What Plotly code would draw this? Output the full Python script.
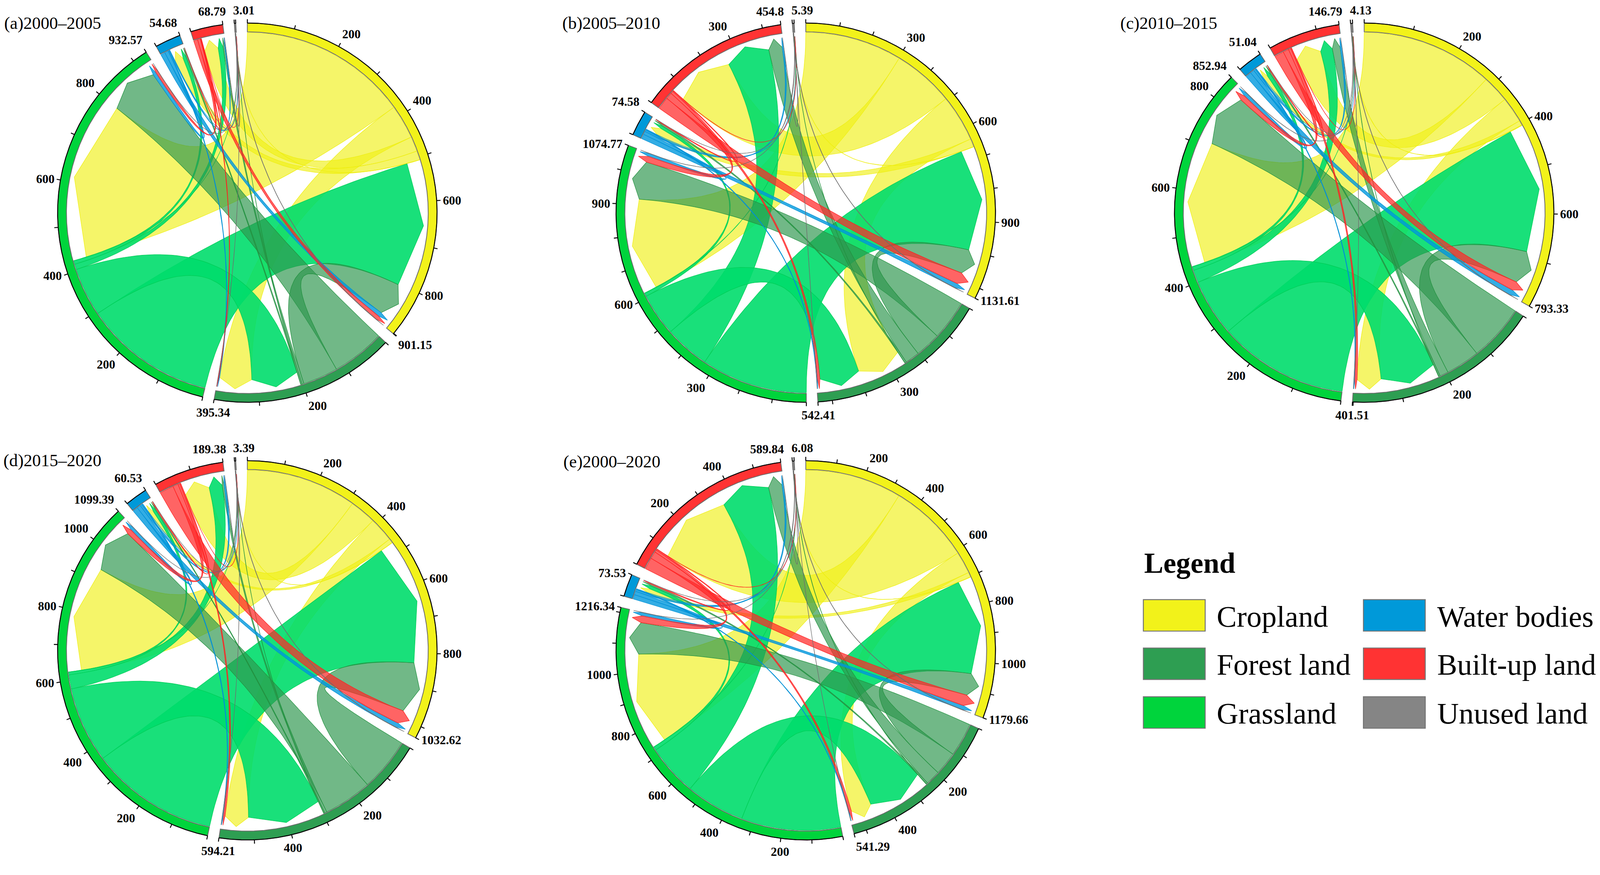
import math
import plotly.graph_objects as go

W, H = 4166, 2241

CATEGORIES = ["Cropland", "Forest land", "Grassland", "Water bodies", "Built-up land", "Unused land"]
SECTOR_COLORS = ["#F2F21A", "#2E9E52", "#00D43C", "#0099D9", "#FF3333", "#858585"]
RIBBON_FILLS = ["rgba(240,240,20,0.64)", "rgba(46,150,78,0.68)", "rgba(0,221,108,0.9)",
                "rgba(0,153,221,0.8)", "rgba(255,40,40,0.72)", "rgba(120,120,120,0.7)"]
RIBBON_LINES = ["#EEEE10", "#22913F", "#00CC55", "#008FD5", "#FF1F1F", "#6E6E6E"]

PANEL_TITLES = ["(a)2000\u20132005", "(b)2005\u20132010", "(c)2010\u20132015",
                "(d)2015\u20132020", "(e)2000\u20132020"]

# sector totals (labels at the end of each arc), order = CATEGORIES
TOTALS_A = [901.15, 395.34, 932.57, 54.68, 68.79, 3.01]
TOTALS_B = [1131.61, 542.41, 1074.77, 74.58, 454.8, 5.39]
TOTALS_C = [793.33, 401.51, 852.94, 51.04, 146.79, 4.13]
TOTALS_D = [1032.62, 594.21, 1099.39, 60.53, 189.38, 3.39]
TOTALS_E = [1179.66, 541.29, 1216.34, 73.53, 589.84, 6.08]

# transition flows (row = from, column = to)
FLOWS_A = [
    [0, 76, 375, 20, 33, 0.4],
    [78, 0, 118, 3, 4, 0.3],
    [294, 108, 0, 8, 12, 0.3],
    [10, 2, 8, 0, 2, 0.05],
    [9, 1.5, 6, 1, 0, 0.05],
    [1.0, 0.3, 0.4, 0.1, 0.1, 0],
]
FLOWS_B = [
    [0, 145, 300, 25, 190, 1],
    [80, 0, 125, 5, 45, 0.5],
    [330, 132, 0, 10, 140, 1],
    [15, 3, 10, 0, 5, 0.1],
    [38, 8, 20, 3, 0, 0.5],
    [1.5, 0.5, 0.5, 0.1, 0.2, 0],
]
FLOWS_C = [
    [0, 54, 278, 10, 57, 1],
    [72, 0, 120, 3, 18, 0.5],
    [278, 122, 0, 8, 27, 0.5],
    [12, 2, 8, 0, 4, 0.1],
    [20, 5, 12, 2, 0, 0.3],
    [1.0, 0.3, 0.5, 0.1, 0.2, 0],
]
FLOWS_D = [
    [0, 70, 315, 12, 75, 0.6],
    [150, 0, 136, 3, 6, 0.4],
    [362, 215, 0, 8, 40, 0.4],
    [14, 3, 10, 0, 5, 0.05],
    [40, 5, 15, 3, 0, 0.05],
    [1.2, 0.3, 0.3, 0.05, 0.1, 0],
]
FLOWS_E = [
    [0, 75, 330, 16, 280, 1],
    [80, 0, 115, 5, 50, 1],
    [340, 202, 0, 12, 175, 0.6],
    [15, 3, 12, 0, 6, 0.1],
    [40, 8, 25, 4, 0, 0.5],
    [1.5, 0.5, 0.5, 0.1, 0.3, 0],
]

LABEL_STEPS = [200, 300, 200, 200, 200]
TICK_STEP = 100

# ---------------- layout / style ----------------
PANEL_CENTERS = [(644, 554), (2098, 554), (3552, 554), (644, 1694), (2098, 1694)]
TITLE_POS = [(9, 60), (1462, 60), (2915, 60), (7, 1199), (1465, 1202)]
R_OUT, R_IN = 494, 471
R_SRC, R_TGT, R_TIP = 469, 435, 460
GAP = 3.5
TICK_LEN = 10
FONT = "Liberation Serif, DejaVu Serif, serif"
DRAW_ORDER = [0, 2, 1, 3, 4, 5]

fig = go.Figure()
annotations = []
shapes = []


def pt(cx, cy, r, deg):
    t = math.radians(deg)
    return cx + r * math.sin(t), cy - r * math.cos(t)


def arc_pts(cx, cy, r, d0, d1):
    n = max(2, int(abs(d1 - d0) / 0.4) + 2)
    return [pt(cx, cy, r, d0 + (d1 - d0) * k / (n - 1)) for k in range(n)]


def bezier(cx, cy, p0, p2, n=48):
    out = []
    for k in range(n + 1):
        t = k / n
        x = (1 - t) ** 2 * p0[0] + 2 * (1 - t) * t * cx + t * t * p2[0]
        y = (1 - t) ** 2 * p0[1] + 2 * (1 - t) * t * cy + t * t * p2[1]
        out.append((x, y))
    return out


def layout_sectors(totals, flows):
    n = len(totals)
    deg_per = (360.0 - n * GAP) / sum(totals)
    starts = []
    a = 0.0
    for i in range(n):
        starts.append(a)
        a += totals[i] * deg_per + GAP
    src, tgt = {}, {}
    for i in range(n):
        outs = sorted([(flows[i][j], j) for j in range(n) if j != i and flows[i][j] > 0],
                      key=lambda t: -t[0])
        ins = sorted([(flows[j][i], j) for j in range(n) if j != i and flows[j][i] > 0],
                     key=lambda t: -t[0])
        raw = sum(v for v, _ in outs) + sum(v for v, _ in ins)
        f = totals[i] / raw
        pos = starts[i]
        for v, j in outs:
            w = v * f * deg_per
            src[(i, j)] = (pos, pos + w)
            pos += w
        for v, j in ins:
            w = v * f * deg_per
            tgt[(j, i)] = (pos, pos + w)
            pos += w
    return starts, deg_per, src, tgt


def ribbon(cx, cy, a0, a1, b0, b1):
    pts = arc_pts(cx, cy, R_SRC, a0, a1)
    pts += bezier(cx, cy, pt(cx, cy, R_SRC, a1), pt(cx, cy, R_TGT, b0))[1:]
    pts.append(pt(cx, cy, R_TIP, (b0 + b1) / 2))
    pb1 = pt(cx, cy, R_TGT, b1)
    pts.append(pb1)
    pts += bezier(cx, cy, pb1, pt(cx, cy, R_SRC, a0))[1:]
    return pts


def label_anchor(deg, special=None):
    s, c = math.sin(math.radians(deg)), math.cos(math.radians(deg))
    if s > 0.25:
        xa = "left"
    elif s < -0.25:
        xa = "right"
    else:
        xa = "center"
    if c > 0.5:
        ya = "bottom"
    elif c < -0.5:
        ya = "top"
    else:
        ya = "middle"
    dx = 0
    if special == "last" and xa == "center":
        xa, dx = "left", -8
    elif special == "prev" and xa == "center":
        xa, dx = "right", 12
    return xa, ya, dx


all_totals = [TOTALS_A, TOTALS_B, TOTALS_C, TOTALS_D, TOTALS_E]
all_flows = [FLOWS_A, FLOWS_B, FLOWS_C, FLOWS_D, FLOWS_E]

for p in range(5):
    totals, flows = all_totals[p], all_flows[p]
    cx, cy = PANEL_CENTERS[p]
    starts, deg_per, src, tgt = layout_sectors(totals, flows)
    n = len(totals)

    # ribbons
    for i in DRAW_ORDER:
        js = sorted([j for j in range(n) if j != i and flows[i][j] > 0], key=lambda j: -flows[i][j])
        for j in js:
            a0, a1 = src[(i, j)]
            b0, b1 = tgt[(i, j)]
            pts = ribbon(cx, cy, a0, a1, b0, b1)
            fig.add_trace(go.Scatter(
                x=[q[0] for q in pts], y=[q[1] for q in pts], mode="lines",
                fill="toself", fillcolor=RIBBON_FILLS[i],
                line=dict(color=RIBBON_LINES[i], width=1.2),
                hoverinfo="skip", showlegend=False))

    # sector bands, axis line, ticks and labels
    axx, axy = [], []
    for i in range(n):
        s = starts[i]
        e = s + totals[i] * deg_per
        pts = arc_pts(cx, cy, R_OUT, s, e) + arc_pts(cx, cy, R_IN, e, s)
        pts.append(pts[0])
        fig.add_trace(go.Scatter(
            x=[q[0] for q in pts], y=[q[1] for q in pts], mode="lines",
            fill="toself", fillcolor=SECTOR_COLORS[i],
            line=dict(color="#6A6A6A", width=2),
            hoverinfo="skip", showlegend=False))
        op = arc_pts(cx, cy, R_OUT, s, e)
        axx += [q[0] for q in op] + [None]
        axy += [q[1] for q in op] + [None]
        vals = list(range(0, int(totals[i]) + 1, TICK_STEP))
        tick_degs = [s + v * deg_per for v in vals] + [e]
        for d in tick_degs:
            p0 = pt(cx, cy, R_OUT, d)
            p1 = pt(cx, cy, R_OUT + TICK_LEN, d)
            axx += [p0[0], p1[0], None]
            axy += [p0[1], p1[1], None]
        step = LABEL_STEPS[p]
        labs = [(s + v * deg_per, str(v)) for v in vals
                if v > 0 and v % step == 0 and (totals[i] - v) * deg_per >= 5]
        special = "last" if i == n - 1 else ("prev" if i == n - 2 else None)
        labs_all = [(d, t, None) for d, t in labs] + [(e, str(totals[i]), special)]
        for d, t, sp in labs_all:
            xa, ya, dx = label_anchor(d, sp)
            lx, ly = pt(cx, cy, R_OUT + TICK_LEN + 4, d)
            annotations.append(dict(
                x=lx + dx, y=ly, text=t, showarrow=False, xanchor=xa, yanchor=ya,
                font=dict(family=FONT, size=32, color="black", weight="bold"),
                xref="x", yref="y"))
    fig.add_trace(go.Scatter(x=axx, y=axy, mode="lines",
                             line=dict(color="black", width=2.4),
                             hoverinfo="skip", showlegend=False))

    tx, ty = TITLE_POS[p]
    annotations.append(dict(x=tx, y=ty, text=PANEL_TITLES[p], showarrow=False,
                            xanchor="left", yanchor="middle",
                            font=dict(family=FONT, size=45, color="black"),
                            xref="x", yref="y"))

# ---------------- legend ----------------
LEG_BOX_X = [2977, 3550]
LEG_TEXT_X = [3166, 3740]
LEG_ROW_Y = [1603, 1729, 1856]
BOX_W, BOX_H = 161, 82
annotations.append(dict(x=2977, y=1466, text="<b>Legend</b>", showarrow=False,
                        xanchor="left", yanchor="middle",
                        font=dict(family=FONT, size=75, color="black"),
                        xref="x", yref="y"))
for k, name in enumerate(CATEGORIES):
    col, row = k // 3, k % 3
    x0 = LEG_BOX_X[col]
    yc = LEG_ROW_Y[row]
    shapes.append(dict(type="rect", xref="x", yref="y", x0=x0, x1=x0 + BOX_W,
                       y0=yc - BOX_H / 2, y1=yc + BOX_H / 2,
                       fillcolor=SECTOR_COLORS[k], line=dict(color="#737373", width=2.5)))
    annotations.append(dict(x=LEG_TEXT_X[col], y=yc + 2, text=name, showarrow=False,
                            xanchor="left", yanchor="middle",
                            font=dict(family=FONT, size=78, color="black"),
                            xref="x", yref="y"))

fig.update_layout(
    width=W, height=H, margin=dict(l=0, r=0, t=0, b=0),
    paper_bgcolor="white", plot_bgcolor="white", showlegend=False,
    xaxis=dict(range=[0, W], visible=False, fixedrange=True),
    yaxis=dict(range=[H, 0], visible=False, fixedrange=True),
    annotations=annotations, shapes=shapes,
)

POST = (
    "document.documentElement.style.margin='0';"
    "document.body.style.margin='0';"
    "document.body.style.overflow='hidden';"
    "var gd=document.getElementById('{plot_id}');"
    "var s=Math.min(window.innerWidth/%d, window.innerHeight/%d);"
    "if(s>0 && Math.abs(s-1)>0.001){gd.style.transformOrigin='0 0';"
    "gd.style.transform='scale('+s+')';}" % (W, H)
)
fig.write_html("out.html", include_plotlyjs=True, post_script=POST,
               config={"displayModeBar": False, "staticPlot": True})
